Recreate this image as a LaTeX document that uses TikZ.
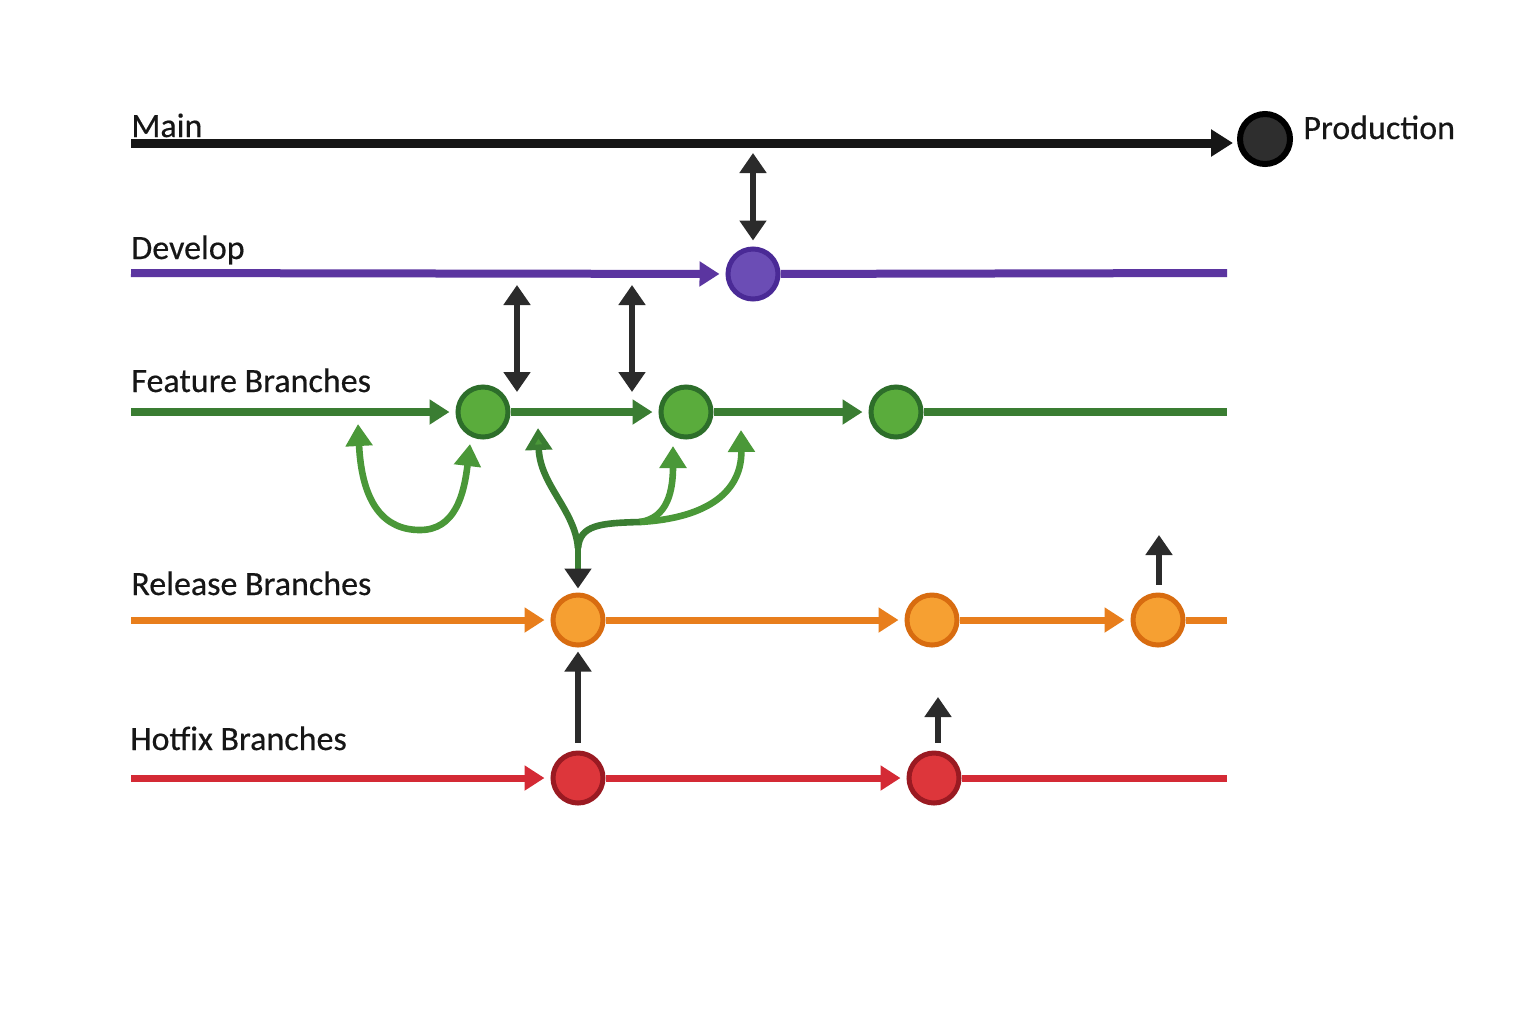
\documentclass[tikz,border=0pt]{standalone}
\usepackage{fontspec}
\setmainfont{Carlito}[FakeBold=0.4]
\usetikzlibrary{arrows.meta}
\definecolor{mainc}{HTML}{161616}
\definecolor{darkc}{HTML}{2B2B2B}
\definecolor{purl}{HTML}{5B35A0}
\definecolor{purf}{HTML}{6B4DB5}
\definecolor{purb}{HTML}{4A2A96}
\definecolor{grnl}{HTML}{3A7D32}
\definecolor{grnf}{HTML}{5AAC3C}
\definecolor{grnb}{HTML}{2D6E2A}
\definecolor{grnc}{HTML}{4A9838}
\definecolor{orgl}{HTML}{E87E1C}
\definecolor{orgf}{HTML}{F6A032}
\definecolor{orgb}{HTML}{D86C10}
\definecolor{redl}{HTML}{D42A35}
\definecolor{redf}{HTML}{DD363B}
\definecolor{redb}{HTML}{9A1A22}
\definecolor{prodf}{HTML}{2E2E2E}
\begin{document}
\begin{tikzpicture}[x=0.5pt,y=-0.5pt,
  lbl/.style={anchor=base west, inner sep=0, font=\fontsize{17}{20}\selectfont, text=mainc},
  commit/.style={circle, minimum size=25pt, inner sep=0, line width=2.5pt},
  tipL/.tip={Triangle[length=11pt,width=13pt]},
  tipS/.tip={Triangle[length=10pt,width=12pt]},
  tipD/.tip={Triangle[length=10pt,width=13pt]},
  mainline/.style={draw=mainc, line width=4.5pt},
  devline/.style={draw=purl, line width=4pt},
  featline/.style={draw=grnl, line width=4pt},
  relline/.style={draw=orgl, line width=3.5pt},
  hotline/.style={draw=redl, line width=3.5pt},
  darkarr/.style={draw=darkc, fill=darkc, line width=3pt},
  gcurve/.style={draw=grnc, line width=3.3pt},
]
\useasboundingbox[fill=white] (0,0) rectangle (1536,1024);

% labels
\node[lbl] (tmain) at (131,137) {Main};
\node[lbl] (tdev) at (131,259) {Develop};
\node[lbl] (tfeat) at (131,392) {Feature Branches};
\node[lbl] (trel) at (131,595) {Release Branches};
\node[lbl] (thot) at (130,750) {Hotfix Branches};
\node[lbl] (tprod) at (1303,139) {Production};

% commits
\node[commit, fill=prodf, draw=black, line width=3pt] (prod) at (1265,139) {};
\node[commit, fill=purf, draw=purb] (d1) at (753,274) {};
\node[commit, fill=grnf, draw=grnb] (f1) at (483,412) {};
\node[commit, fill=grnf, draw=grnb] (f2) at (686,412) {};
\node[commit, fill=grnf, draw=grnb] (f3) at (896,412) {};
\node[commit, fill=orgf, draw=orgb] (r1) at (578,620) {};
\node[commit, fill=orgf, draw=orgb] (r2) at (932,620) {};
\node[commit, fill=orgf, draw=orgb] (r3) at (1158,620) {};
\node[commit, fill=redf, draw=redb] (h1) at (578,778) {};
\node[commit, fill=redf, draw=redb] (h2) at (934,778) {};

% line ends
\coordinate (ms) at (131,143);
\coordinate (ds) at (131,273);
\coordinate (de) at (1227,273);
\coordinate (fs) at (131,412);
\coordinate (fe) at (1227,412);
\coordinate (rs) at (131,620);
\coordinate (re) at (1227,620);
\coordinate (hs) at (131,778);
\coordinate (he) at (1227,778);

% branch lines
\draw[mainline, -{tipL[fill=mainc]}, shorten >=2pt] (ms) -- (prod.west |- ms);
\draw[devline, -{tipS}, shorten >=3pt] (ds) -- (d1);
\draw[devline] (d1) -- (de);
\draw[featline, -{tipS}, shorten >=3pt] (fs) -- (f1);
\draw[featline, -{tipS}, shorten >=3pt] (f1) -- (f2);
\draw[featline, -{tipS}, shorten >=3pt] (f2) -- (f3);
\draw[featline] (f3) -- (fe);
\draw[relline, -{tipS}, shorten >=3pt] (rs) -- (r1);
\draw[relline, -{tipS}, shorten >=3pt] (r1) -- (r2);
\draw[relline, -{tipS}, shorten >=3pt] (r2) -- (r3);
\draw[relline] (r3) -- (re);
\draw[hotline, -{tipS}, shorten >=3pt] (hs) -- (h1);
\draw[hotline, -{tipS}, shorten >=3pt] (h1) -- (h2);
\draw[hotline] (h2) -- (he);

% vertical dark arrows
\coordinate (m1) at (753,143);
\draw[darkarr, {tipD}-{tipD}, shorten <=5pt, shorten >=3pt] (m1) -- (d1);
\coordinate (da) at (517,273);
\coordinate (fa) at (517,412);
\coordinate (db) at (632,273);
\coordinate (fb) at (632,412);
\draw[darkarr, {tipD}-{tipD}, shorten <=6pt, shorten >=10pt] (da) -- (fa);
\draw[darkarr, {tipD}-{tipD}, shorten <=6pt, shorten >=10pt] (db) -- (fb);
\draw[darkarr, -{tipD}, shorten <=4pt, shorten >=2pt] (h1) -- (r1);
\coordinate (h2up) at (938,697);
\draw[darkarr, -{tipD}] ([xshift=2pt,yshift=4pt]h2.north) -- (h2up);
\coordinate (r3up) at (1159,535);
\draw[darkarr, -{tipD}] ([xshift=0.5pt,yshift=4pt]r3.north) -- (r3up);

% green curves
\coordinate (c1a) at (358,424);
\coordinate (c1b) at (470,444);
\draw[gcurve, {tipL[fill=grnc]}-{tipL[fill=grnc]}] (c1a) .. controls (362,505) and (385,530) .. (420,530) .. controls (455,530) and (464,495) .. (c1b);

\coordinate (jn) at (578,548);
\coordinate (jr) at (640,522);
\coordinate (tA) at (538,428);
\coordinate (tB) at (673,446);
\coordinate (tC) at (741,430);
\draw[gcurve, draw=grnl, -{tipD[fill=darkc,color=darkc]}, shorten >=2pt] (jn) -- (r1);
\draw[gcurve, draw=grnl, -{tipL[fill=grnc]}] (jn) .. controls (575,510) and (540,485) .. (tA);
\draw[gcurve, draw=grnl] (jn) .. controls (580,525) and (600,523) .. (jr);
\draw[gcurve, -{tipL[fill=grnc]}] (jr) .. controls (668,518) and (673,490) .. (tB);
\draw[gcurve, -{tipL[fill=grnc]}] (jr) .. controls (710,518) and (742,490) .. (tC);
\end{tikzpicture}
\end{document}
